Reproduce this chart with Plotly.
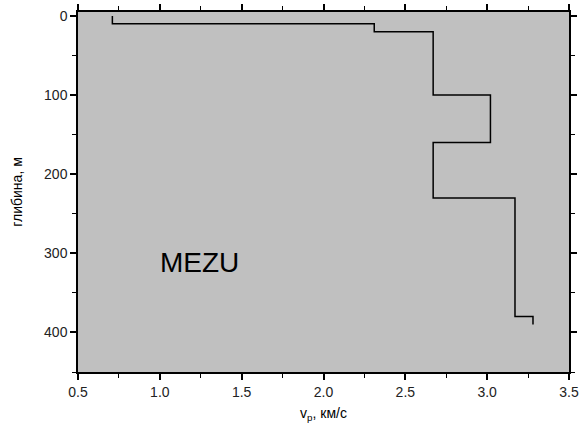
import plotly.graph_objects as go

# Layered P-wave velocity model for station MEZU
layer_bounds = [0, 10, 20, 100, 160, 230, 380, 390]   # depth of layer boundaries, m
vp_layers = [0.71, 2.31, 2.67, 3.02, 2.67, 3.17, 3.28]  # P-wave velocity per layer, km/s
station = "MEZU"
label_pos = (1.24, 311)

x_ticks = [0.5, 1.0, 1.5, 2.0, 2.5, 3.0, 3.5]
y_ticks = [0, 100, 200, 300, 400]

# Step profile: each layer is a vertical segment at its velocity
xs, ys = [], []
for i, v in enumerate(vp_layers):
    xs += [v, v]
    ys += [layer_bounds[i], layer_bounds[i + 1]]

fig = go.Figure()
fig.add_trace(go.Scatter(x=xs, y=ys, mode="lines",
                         line=dict(color="black", width=1.5),
                         showlegend=False, hoverinfo="skip"))

fig.add_annotation(x=label_pos[0], y=label_pos[1], text=station, showarrow=False,
                   font=dict(size=28, color="black", family="Liberation Sans, Arial"))

axis_common = dict(
    showgrid=False, zeroline=False, showline=True, linecolor="black", linewidth=1.5,
    mirror="allticks", ticks="outside", ticklen=6, tickwidth=1.5, tickcolor="black",
    automargin=False,
    tickfont=dict(size=14, color="#222222", family="Liberation Sans, Arial"),
)

fig.update_xaxes(
    range=[0.5, 3.5], tickvals=x_ticks, tickformat=".1f",
    minor=dict(dtick=0.25, ticks="outside", ticklen=4, tickwidth=1.2, tickcolor="black"),
    title=dict(text="v<sub>p</sub>, км/с", standoff=15,
               font=dict(size=14, color="black", family="Liberation Sans, Arial")),
    **axis_common,
)
fig.update_yaxes(
    range=[450, -5], tickvals=y_ticks,
    minor=dict(dtick=50, ticks="outside", ticklen=4, tickwidth=1.2, tickcolor="black"),
    title=dict(text="глибина, м", standoff=18,
               font=dict(size=14, color="black", family="Liberation Sans, Arial")),
    **axis_common,
)

fig.update_layout(
    width=580, height=423,
    margin=dict(l=78, r=11, t=12, b=51, autoexpand=False),
    plot_bgcolor="#c0c0c0", paper_bgcolor="white",
    font=dict(family="Liberation Sans, Arial", color="black"),
)

fig.write_html("out.html")
